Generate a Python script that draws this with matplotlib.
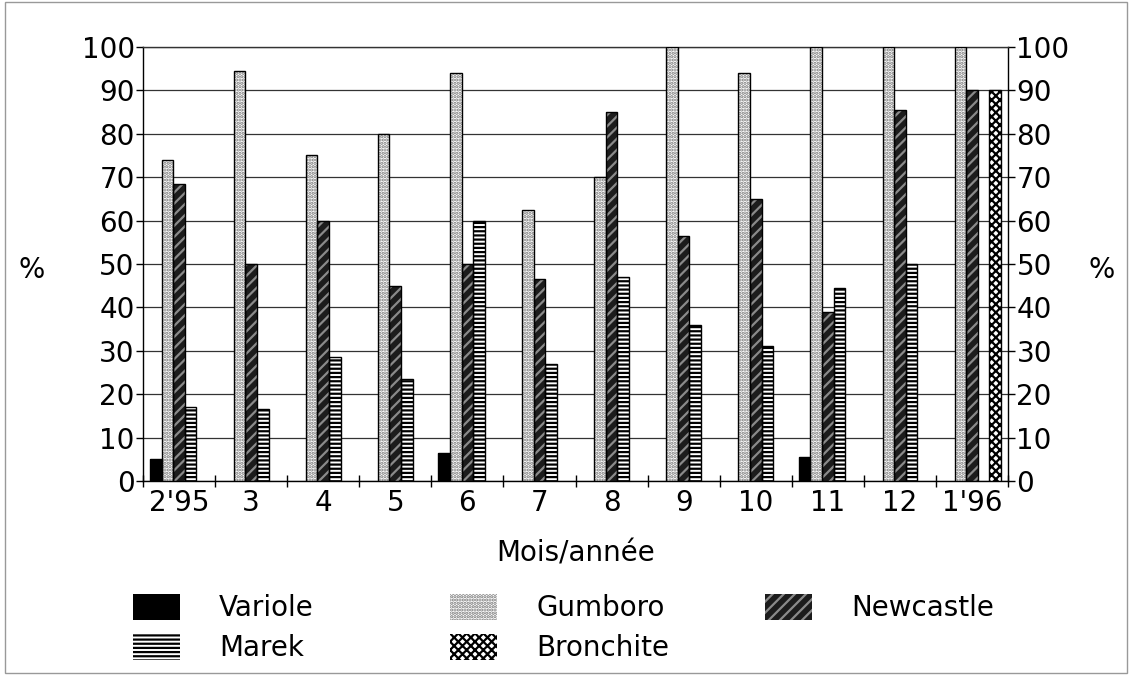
import matplotlib
matplotlib.use("Agg")
import matplotlib.pyplot as plt
import numpy as np
from matplotlib.patches import Patch, Rectangle

plt.rcParams['font.family'] = ['DejaVu Sans']
plt.rcParams['hatch.linewidth'] = 1.6

# months of the survey
mois = ["2'95", "3", "4", "5", "6", "7", "8", "9", "10", "11", "12", "1'96"]

# vaccination coverage, %
variole   = [5, 0, 0, 0, 6.5, 0, 0, 0, 0, 5.5, 0, 0]
gumboro   = [74, 94.5, 75, 80, 94, 62.5, 70, 100, 94, 100, 100, 100]
newcastle = [68.5, 50, 60, 45, 50, 46.5, 85, 56.5, 65, 39, 85.5, 90]
marek     = [17, 16.5, 28.5, 23.5, 60, 27, 47, 36, 31, 44.5, 50, 0]
bronchite = [0, 0, 0, 0, 0, 0, 0, 0, 0, 0, 0, 90]

series = [
    ("Variole",   variole,   dict(face="black",   hatch=None,    hc="black")),
    ("Gumboro",   gumboro,   dict(face="white",   hatch=".....", hc="#777777")),
    ("Newcastle", newcastle, dict(face="#1c1c1c", hatch="///",   hc="#8a8a8a")),
    ("Marek",     marek,     dict(face="white",   hatch="----",  hc="black")),
    ("Bronchite", bronchite, dict(face="white",   hatch="xxxx",  hc="black")),
]

fig = plt.figure(figsize=(11.32, 6.75), dpi=100)
ax = fig.add_axes([0.1263, 0.2874, 0.7642, 0.643])

x = np.arange(len(mois))
w = 0.161
for i, (name, vals, st) in enumerate(series):
    pos = x + (i - 2) * w
    vals = np.array(vals, dtype=float)
    keep = vals > 0
    # fill + hatch first, then a crisp black outline on top
    ax.bar(pos[keep], vals[keep], w, color=st["face"], edgecolor=st["hc"],
           hatch=st["hatch"], linewidth=0, zorder=3)
    ax.bar(pos[keep], vals[keep], w, fill=False, edgecolor="black",
           linewidth=1.0, zorder=4)

ax.set_xlim(-0.5, len(mois) - 0.5)
ax.set_ylim(0, 100)
ax.set_yticks(np.arange(0, 101, 10))
ax.yaxis.grid(True, color="#333333", linewidth=0.9, zorder=0)
ax.set_axisbelow(True)

ax.set_xticks(x)
ax.set_xticklabels(mois, fontsize=20)
ax.set_xticks(np.arange(-0.5, len(mois) - 0.4, 1), minor=True)
ax.tick_params(axis="x", which="major", length=0, pad=6)
ax.tick_params(axis="x", which="minor", direction="inout", length=9, width=1)
ax.tick_params(axis="y", which="major", direction="out", length=5, width=1,
               labelsize=20, pad=1, left=True, right=True,
               labelleft=True, labelright=True)
for s in ax.spines.values():
    s.set_linewidth(1.0)
    s.set_color("black")
ax.spines["top"].set_color("#333333")

ax.set_xlabel("Mois/année", fontsize=20, labelpad=16)
fig.text(0.028, 0.6, "%", fontsize=20, ha="center", va="center")
fig.text(0.973, 0.6, "%", fontsize=20, ha="center", va="center")

# legend laid out in three columns
def handle(st):
    return Patch(facecolor=st["face"], edgecolor=st["hc"], hatch=st["hatch"],
                 linewidth=0)

cols = [[0, 3], [1, 4], [2]]
xs = [0.1175, 0.3975, 0.676]
for idx, xa in zip(cols, xs):
    hs = [handle(series[k][2]) for k in idx]
    ls = [series[k][0] for k in idx]
    fig.legend(hs, ls, loc="upper left", bbox_to_anchor=(xa, 0.12),
               frameon=False, fontsize=20, borderpad=0, borderaxespad=0,
               handlelength=1.7, handleheight=1.05, handletextpad=1.4,
               labelspacing=0.42)

fig.add_artist(Rectangle((0.004, 0.003), 0.992, 0.994, transform=fig.transFigure,
                         fill=False, edgecolor="#999999", linewidth=1))

fig.savefig("out.png", dpi=100)
